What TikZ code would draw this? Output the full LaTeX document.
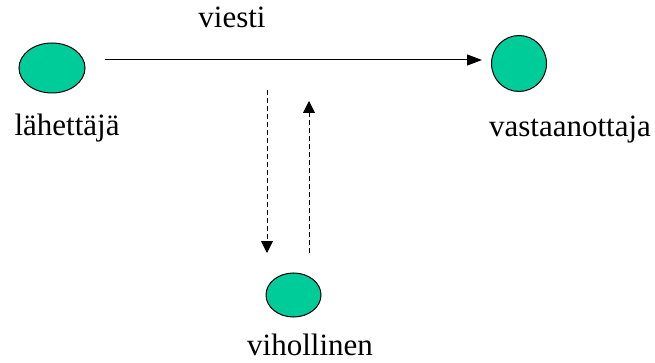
\documentclass[tikz,border=0pt]{standalone}
\usepackage{fontspec}
\setmainfont{Liberation Serif}
\usetikzlibrary{arrows.meta,shapes.geometric}
\definecolor{party}{RGB}{0,204,153}
\tikzset{
  party/.style={draw=black, line width=1pt, fill=party, ellipse, inner sep=0pt},
  label/.style={font=\fontsize{31}{36}\selectfont, inner sep=0pt, anchor=base},
  msg/.style={line width=1pt, -{Triangle[length=15pt,width=11pt]}},
  tap/.style={line width=1pt, dash pattern=on 5pt off 3pt, -{Triangle[length=12pt,width=12pt]}}
}
\begin{document}
\begin{tikzpicture}[x=1pt,y=-1pt]
  \useasboundingbox (0,0) rectangle (655,363);
  % the three parties
  \node[party, minimum width=66pt, minimum height=50pt] (sender) at (52,68) {};
  \node[party, minimum width=55pt, minimum height=56pt] (receiver) at (519,63.5) {};
  \node[party, minimum width=55pt, minimum height=44pt] (enemy) at (293.5,295) {};
  % names
  \node[label] (tsender) at (67,136) {lähettäjä};
  \node[label] (treceiver) at (570,137) {vastaanottaja};
  \node[label] (tenemy) at (310,355) {vihollinen};
  \node[label] (tmsg) at (232,28) {viesti};
  % message channel
  \coordinate (m0) at (105,60);
  \coordinate (m1) at (482,60);
  \draw[msg] (m0) -- (m1);
  % eavesdropping / tampering
  \coordinate (d0) at (267,90);
  \coordinate (d1) at (267,253);
  \coordinate (u0) at (309,253);
  \coordinate (u1) at (309,101);
  \draw[tap] (d0) -- (d1);
  \draw[tap] (u0) -- (u1);
\end{tikzpicture}
\end{document}
